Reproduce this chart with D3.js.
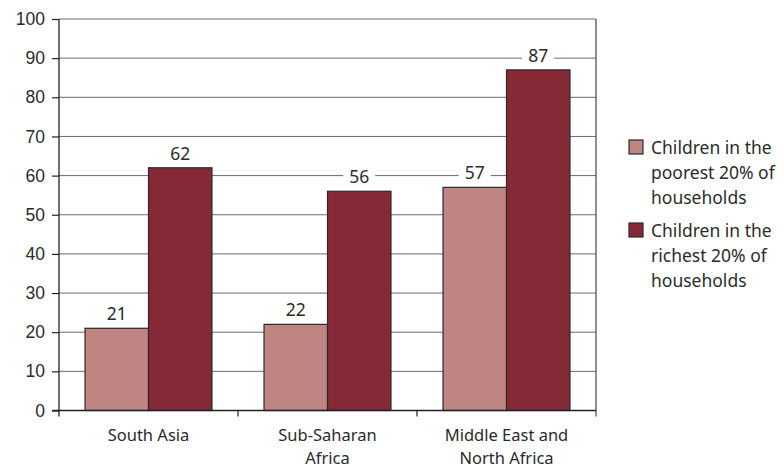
<!DOCTYPE html>
<html>
<head>
<meta charset="utf-8">
<script src="https://cdn.jsdelivr.net/npm/d3@7"></script>
<style>
  html, body { margin: 0; padding: 0; background: #fff; }
  svg { display: block; font-family: "Noto Sans", "Open Sans", sans-serif; }
</style>
</head>
<body>
<svg id="chart" width="784" height="468"></svg>
<script>
// Regions along the x axis (multi-line labels split on "\n")
const regions = ["South Asia", "Sub-Saharan\nAfrica", "Middle East and\nNorth Africa"];
// Share of children (%) in each household group
const poorest = [21, 22, 57];
const richest = [62, 56, 87];
const seriesNames = [
  ["Children in the", "poorest 20% of", "households"],
  ["Children in the", "richest 20% of", "households"]
];
const yTicks = [0, 10, 20, 30, 40, 50, 60, 70, 80, 90, 100];
const colors = ["#bf8582", "#842935"];

const FS = 17.5;
const CAT_FS = 16.5;
const TXT = "#2b2b2b";
const svg = d3.select("#chart");
const margin = { left: 59, right: 596, top: 19, bottom: 410.5 };

const x = d3.scaleBand().domain(regions).range([margin.left, margin.right]).paddingInner(0).paddingOuter(0);
const inner = d3.scaleBand().domain([0, 1]).range([0, x.bandwidth()]).paddingOuter(0.41).paddingInner(0);
const y = d3.scaleLinear().domain([0, 100]).range([margin.bottom, margin.top]);

// horizontal gridlines
svg.append("g")
  .selectAll("line")
  .data(yTicks.filter(d => d > 0))
  .join("line")
  .attr("x1", margin.left).attr("x2", margin.right)
  .attr("y1", d => y(d)).attr("y2", d => y(d))
  .attr("stroke", "#6b6b6b").attr("stroke-width", 1);

// right frame edge
svg.append("line")
  .attr("x1", margin.right).attr("x2", margin.right)
  .attr("y1", margin.top).attr("y2", margin.bottom + 6)
  .attr("stroke", "#444").attr("stroke-width", 1.2);

// y axis
const yAxis = d3.axisLeft(y).tickValues(yTicks).tickSize(7).tickPadding(7);
const gy = svg.append("g").attr("transform", `translate(${margin.left},0)`).call(yAxis);
gy.select(".domain").attr("stroke", "#222").attr("stroke-width", 1.3)
  .attr("d", `M0,${margin.top}V${margin.bottom + 6}`);
gy.selectAll(".tick line").attr("stroke", "#222").attr("stroke-width", 1.2);
gy.selectAll(".tick text").attr("font-size", FS).attr("fill", TXT).attr("font-family", "inherit");

// bars
const data = regions.map((r, i) => ({ region: r, values: [poorest[i], richest[i]] }));
const groups = svg.append("g").selectAll("g")
  .data(data).join("g")
  .attr("transform", d => `translate(${x(d.region)},0)`);

groups.selectAll("rect")
  .data(d => d.values.map((v, k) => ({ v, k })))
  .join("rect")
  .attr("x", d => inner(d.k))
  .attr("width", inner.bandwidth())
  .attr("y", d => y(d.v))
  .attr("height", d => y(0) - y(d.v))
  .attr("fill", d => colors[d.k])
  .attr("stroke", "#2a2a2a").attr("stroke-width", 1.2);

// value labels with white backing
groups.each(function(d) {
  const g = d3.select(this);
  d.values.forEach((v, k) => {
    const cx = inner(k) + inner.bandwidth() / 2;
    const ty = y(v) - 8;
    g.append("rect")
      .attr("x", cx - 16).attr("y", ty - 16)
      .attr("width", 32).attr("height", 20)
      .attr("fill", "#fff");
    g.append("text")
      .attr("x", cx).attr("y", ty)
      .attr("text-anchor", "middle")
      .attr("font-size", FS).attr("fill", TXT)
      .text(v);
  });
});

// x axis baseline and category separators
const gx = svg.append("g").attr("transform", `translate(0,${margin.bottom})`);
gx.append("line")
  .attr("x1", margin.left - 7).attr("x2", margin.right)
  .attr("stroke", "#222").attr("stroke-width", 1.3);
gx.selectAll("line.sep")
  .data(regions.slice(1))
  .join("line").attr("class", "sep")
  .attr("x1", d => x(d)).attr("x2", d => x(d))
  .attr("y1", 0).attr("y2", 6)
  .attr("stroke", "#222").attr("stroke-width", 1.2);

gx.selectAll("text.cat")
  .data(regions)
  .join("text").attr("class", "cat")
  .attr("text-anchor", "middle")
  .attr("font-size", CAT_FS).attr("fill", TXT)
  .attr("transform", d => `translate(${x(d) + x.bandwidth() / 2},0)`)
  .each(function(d) {
    const t = d3.select(this);
    d.split("\n").forEach((line, i) => {
      t.append("tspan").attr("x", 0).attr("y", 30.5 + i * 22.5).text(line);
    });
  });

// legend
const legend = svg.append("g").attr("transform", "translate(629,140)");
seriesNames.forEach((lines, k) => {
  const item = legend.append("g").attr("transform", `translate(0,${k * 83})`);
  item.append("rect")
    .attr("x", 0).attr("y", 0).attr("width", 14).attr("height", 14)
    .attr("fill", colors[k]).attr("stroke", "#2a2a2a").attr("stroke-width", 1.2);
  const t = item.append("text").attr("font-size", FS).attr("fill", TXT);
  lines.forEach((line, i) => {
    t.append("tspan").attr("x", 22).attr("y", 14 + i * 25).text(line);
  });
});
</script>
</body>
</html>
